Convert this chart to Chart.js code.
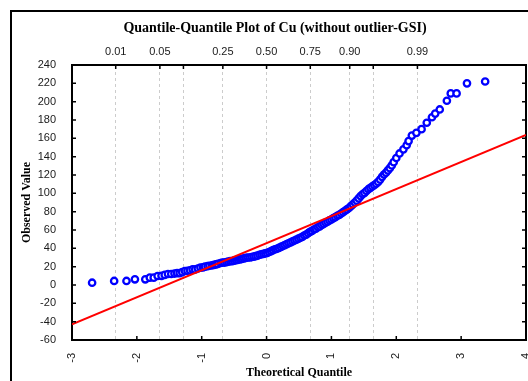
<!DOCTYPE html>
<html>
<head>
<meta charset="utf-8">
<script src="https://cdn.jsdelivr.net/npm/chart.js@4"></script>
<style>
  html, body { margin: 0; padding: 0; background: #fff; overflow: hidden; width: 528px; height: 381px; }
  #frame { position: absolute; left: 10px; top: 10px; width: 700px; height: 600px; border-left: 2px solid #000; border-top: 2px solid #000; }
  #wrap { position: absolute; left: 0; top: 0; width: 550px; height: 381px; }
</style>
</head>
<body>
<div id="frame"></div>
<div id="wrap"><canvas id="c"></canvas></div>
<script>
// ---- data ----
const quantiles = [
  -2.69, -2.35, -2.16, -2.03, -1.87, -1.80, -1.74, -1.68, -1.62, -1.57,
  -1.52, -1.47, -1.42, -1.38, -1.34, -1.30, -1.26, -1.22, -1.18, -1.14,
  -1.10, -1.06, -1.02, -0.98, -0.95, -0.91, -0.88, -0.84, -0.81, -0.78,
  -0.75, -0.71, -0.68, -0.65, -0.62, -0.59, -0.56, -0.53, -0.50, -0.47,
  -0.44, -0.41, -0.38, -0.35, -0.32, -0.29, -0.26, -0.23, -0.20, -0.17,
  -0.14, -0.11, -0.08, -0.05, -0.02, 0.01, 0.04, 0.07, 0.10, 0.13,
  0.16, 0.19, 0.22, 0.25, 0.28, 0.31, 0.34, 0.37, 0.40, 0.43,
  0.46, 0.49, 0.52, 0.55, 0.58, 0.61, 0.64, 0.67, 0.70, 0.73,
  0.76, 0.79, 0.82, 0.85, 0.88, 0.91, 0.94, 0.97, 1.00, 1.03,
  1.06, 1.09, 1.12, 1.15, 1.18, 1.21, 1.24, 1.27, 1.30, 1.33,
  1.36, 1.39, 1.42, 1.45, 1.48, 1.51, 1.54, 1.57, 1.60, 1.63,
  1.66, 1.69, 1.72, 1.75, 1.78, 1.81, 1.84, 1.87, 1.90, 1.93,
  1.96, 2.00, 2.05, 2.11, 2.16, 2.19, 2.24, 2.31, 2.39, 2.47,
  2.55, 2.60, 2.67, 2.78, 2.84, 2.93, 3.09, 3.37
];
const observed = [
  2.5, 4.4, 4.4, 6.2, 6.2, 8, 8, 9.8, 10, 11,
  12, 12, 12.5, 13, 13, 14, 15.3, 15.5, 16, 17,
  17, 18, 19, 19.3, 20, 20.5, 21, 21.5, 22, 22.5,
  23, 24, 24.5, 24.5, 25, 25.5, 26, 26, 26.5, 27,
  27.5, 28, 28.5, 29, 29.5, 30, 30, 30.5, 31, 31.5,
  32, 33, 33.5, 34, 34.5, 35, 36, 37, 38, 39,
  39.5, 40.5, 41.5, 42.5, 43.5, 44.5, 45.5, 46.5, 47.5, 48.5,
  49.5, 50.5, 51.5, 52.5, 54, 55, 56.5, 58, 59, 60.5,
  61.5, 63, 64, 65.5, 66.5, 68, 69, 70.5, 71.5, 73,
  74, 75.5, 76.5, 78, 79.5, 81, 82.5, 84, 86, 88,
  90, 92, 94.5, 97, 99, 100.5, 102.5, 104.5, 106, 107.5,
  109, 110.5, 112.5, 115, 118, 120.5, 122.5, 125, 127.5, 130.5,
  134, 138.5, 143.5, 148, 152.5, 157, 163, 166, 170, 177,
  183, 187, 191.5, 201, 209, 209, 220, 222
];
const fitX = [-3, 4];
const fitY = [-42.8, 163.7];
const topTickValues = [-2.326, -1.645, -1.282, -0.674, 0, 0.674, 1.282, 1.645, 2.326];
const topTickLabels = ['0.01', '0.05', '', '0.25', '0.50', '0.75', '0.90', '', '0.99'];
const titleText = 'Quantile-Quantile Plot of Cu (without outlier-GSI)';
const xTitle = 'Theoretical Quantile';
const yTitle = 'Observed Value';

Chart.defaults.font.family = '"Liberation Sans", Arial, sans-serif';
Chart.defaults.color = '#1a1a1a';

const inwardTicks = {
  id: 'inwardTicks',
  afterDraw(chart) {
    const ctx = chart.ctx, a = chart.chartArea, s = chart.scales;
    const L = 4;
    ctx.save();
    ctx.strokeStyle = '#000';
    ctx.lineWidth = 1.5;
    ctx.beginPath();
    s.y.ticks.forEach(t => {
      const p = s.y.getPixelForValue(t.value);
      ctx.moveTo(a.left, p); ctx.lineTo(a.left + L, p);
      ctx.moveTo(a.right, p); ctx.lineTo(a.right - L, p);
    });
    s.x.ticks.forEach(t => {
      const p = s.x.getPixelForValue(t.value);
      ctx.moveTo(p, a.bottom); ctx.lineTo(p, a.bottom - L);
    });
    s.xTop.ticks.forEach(t => {
      const p = s.xTop.getPixelForValue(t.value);
      ctx.moveTo(p, a.top); ctx.lineTo(p, a.top + L);
    });
    ctx.stroke();
    ctx.restore();
  }
};

new Chart(document.getElementById('c'), {
  type: 'scatter',
  data: {
    datasets: [
      {
        label: 'fit',
        data: fitX.map((x, i) => ({ x, y: fitY[i] })),
        showLine: true,
        borderColor: '#ff0000',
        borderWidth: 2,
        pointRadius: 0,
        xAxisID: 'x', yAxisID: 'y'
      },
      {
        label: 'Cu',
        data: quantiles.map((q, i) => ({ x: q, y: observed[i] })),
        pointRadius: 3.2,
        pointBorderWidth: 2.3,
        borderColor: '#0000ff',
        backgroundColor: '#ffffff',
        xAxisID: 'x', yAxisID: 'y'
      }
    ]
  },
  options: {
    responsive: true,
    maintainAspectRatio: false,
    animation: false,
    layout: { padding: 0 },
    plugins: {
      legend: { display: false },
      tooltip: { enabled: false },
      title: {
        display: true,
        text: titleText,
        color: '#000',
        font: { family: '"Liberation Serif", "Times New Roman", serif', size: 14, weight: 'bold' },
        padding: { top: 20, bottom: 5 }
      }
    },
    scales: {
      x: {
        type: 'linear', position: 'bottom', min: -3, max: 4,
        afterFit: s => { s.height = 41; },
        ticks: { stepSize: 1, minRotation: 90, maxRotation: 90, padding: 5, font: { size: 11 }, color: '#1a1a1a' },
        grid: { display: false },
        border: { display: true, color: '#000', width: 2 },
        title: { display: true, text: xTitle, color: '#000',
          font: { family: '"Liberation Serif", "Times New Roman", serif', size: 12, weight: 'bold' },
          padding: { top: 0, bottom: 1 } }
      },
      xTop: {
        type: 'linear', position: 'top', min: -3, max: 4,
        afterFit: s => { s.height = 65 - 41.8; },
        afterBuildTicks: s => { s.ticks = topTickValues.map(v => ({ value: v })); },
        ticks: { autoSkip: false, maxRotation: 0, minRotation: 0, padding: 6, font: { size: 11 }, color: '#1a1a1a',
          callback: (v, i) => topTickLabels[i] },
        grid: { display: true, drawOnChartArea: true, drawTicks: false, color: '#cccccc', lineWidth: 1 },
        border: { display: true, color: '#000', width: 2, dash: [3, 3] }
      },
      y: {
        type: 'linear', position: 'left', min: -60, max: 240,
        afterFit: s => { s.width = 72; },
        ticks: { stepSize: 20, padding: 8, font: { size: 11 }, color: '#1a1a1a' },
        grid: { display: false },
        border: { display: true, color: '#000', width: 2 },
        title: { display: true, text: yTitle, color: '#000',
          font: { family: '"Liberation Serif", "Times New Roman", serif', size: 12, weight: 'bold' },
          padding: { top: 20, bottom: 0 } }
      },
      yRight: {
        type: 'linear', position: 'right', min: -60, max: 240,
        afterFit: s => { s.width = 24; },
        ticks: { display: false },
        grid: { display: false },
        border: { display: true, color: '#000', width: 2 }
      }
    }
  },
  plugins: [inwardTicks]
});
</script>
</body>
</html>
